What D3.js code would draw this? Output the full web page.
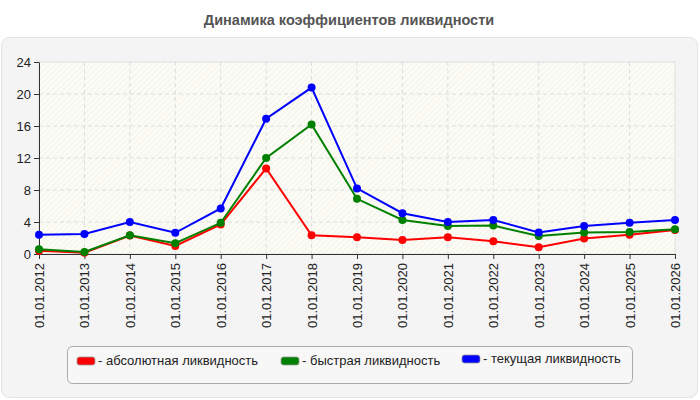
<!DOCTYPE html>
<html lang="ru">
<head>
<meta charset="UTF-8">
<title>Динамика коэффициентов ликвидности</title>
<style>
  body { margin: 0; background: #fff; font-family: "Liberation Sans", Arial, sans-serif; }
  .axis path, .axis line { stroke: #333; }
  .axis text { fill: #222; font-size: 13px; font-family: "Liberation Sans", Arial, sans-serif; }
  .grid line { stroke: #dcdcdc; stroke-dasharray: 4,3; }
</style>
</head>
<body>
<svg id="chart" width="700" height="400"></svg>
<script src="https://cdnjs.cloudflare.com/ajax/libs/d3/7.9.0/d3.min.js"></script>
<script>
  // data
  const dates = ["01.01.2012", "01.01.2013", "01.01.2014", "01.01.2015", "01.01.2016",
    "01.01.2017", "01.01.2018", "01.01.2019", "01.01.2020", "01.01.2021",
    "01.01.2022", "01.01.2023", "01.01.2024", "01.01.2025", "01.01.2026"];
  const absolute = [0.4, 0.15, 2.3, 1.0, 3.7, 10.7, 2.35, 2.1, 1.75, 2.1, 1.6, 0.85, 1.95, 2.4, 3.0];
  const quick = [0.6, 0.25, 2.35, 1.35, 3.9, 12.0, 16.2, 6.9, 4.25, 3.5, 3.55, 2.25, 2.7, 2.75, 3.1];
  const current = [2.4, 2.5, 4.0, 2.65, 5.7, 16.9, 20.8, 8.2, 5.1, 4.0, 4.25, 2.7, 3.5, 3.9, 4.25];
  const yTicks = [0, 4, 8, 12, 16, 20, 24];
  const seriesNames = ["абсолютная ликвидность", "быстрая ликвидность", "текущая ликвидность"];
  const seriesColors = ["#ff0000", "#008000", "#0000ff"];

  const series = [absolute, quick, current].map((values, i) => ({
    name: seriesNames[i], color: seriesColors[i], values: values
  }));

  const svg = d3.select("#chart");
  const plotLeft = 39, plotRight = 675, plotTop = 62, plotBottom = 254;

  const x = d3.scalePoint().domain(dates).range([plotLeft, plotRight]);
  const y = d3.scaleLinear().domain([0, 24]).range([plotBottom, plotTop]);

  // title
  svg.append("text")
    .attr("x", 349).attr("y", 25)
    .attr("text-anchor", "middle")
    .attr("font-size", 14.5).attr("font-weight", "bold")
    .attr("fill", "#555")
    .text("Динамика коэффициентов ликвидности");

  // outer panel
  svg.append("rect")
    .attr("x", 1.5).attr("y", 37.5).attr("width", 696).attr("height", 360)
    .attr("rx", 8)
    .attr("fill", "#f4f4f4").attr("stroke", "#e2e2e2");

  // hatched plot background
  const defs = svg.append("defs");
  const pat = defs.append("pattern")
    .attr("id", "hatch").attr("patternUnits", "userSpaceOnUse")
    .attr("width", 4).attr("height", 4)
    .attr("patternTransform", "rotate(45)");
  pat.append("rect").attr("width", 4).attr("height", 4).attr("fill", "#fcfcf5");
  pat.append("line").attr("x1", 0).attr("y1", 0).attr("x2", 0).attr("y2", 4)
    .attr("stroke", "#ebebe8").attr("stroke-width", 1);

  svg.append("rect")
    .attr("x", plotLeft).attr("y", plotTop)
    .attr("width", plotRight - plotLeft).attr("height", plotBottom - plotTop)
    .attr("fill", "url(#hatch)")
    .attr("stroke", "#dedede");

  // grid
  const grid = svg.append("g").attr("class", "grid");
  grid.selectAll(".h").data(yTicks.filter(t => t > 0 && t < 24)).enter()
    .append("line")
    .attr("x1", plotLeft).attr("x2", plotRight)
    .attr("y1", d => y(d)).attr("y2", d => y(d));
  grid.selectAll(".v").data(dates.slice(1, -1)).enter()
    .append("line")
    .attr("x1", d => x(d)).attr("x2", d => x(d))
    .attr("y1", plotTop).attr("y2", plotBottom);

  // axes
  svg.append("g")
    .attr("class", "axis")
    .attr("transform", "translate(" + plotLeft + ",0)")
    .call(d3.axisLeft(y).tickValues(yTicks).tickSize(5).tickPadding(3).tickSizeOuter(0));

  const xAxis = svg.append("g")
    .attr("class", "axis")
    .attr("transform", "translate(0," + plotBottom + ")")
    .call(d3.axisBottom(x).tickSize(5).tickSizeOuter(0));
  xAxis.selectAll("text")
    .attr("transform", "rotate(-90)")
    .attr("x", -9).attr("y", 0).attr("dy", "0.35em")
    .attr("text-anchor", "end");

  // lines and markers
  const line = d3.line().x((d, i) => x(dates[i])).y(d => y(d));
  const sg = svg.selectAll(".series").data(series).enter().append("g");
  sg.append("path")
    .attr("d", d => line(d.values))
    .attr("fill", "none")
    .attr("stroke", d => d.color)
    .attr("stroke-width", 2);
  sg.selectAll("circle")
    .data(d => d.values.map((v, i) => ({ v: v, i: i, color: d.color })))
    .enter().append("circle")
    .attr("cx", d => x(dates[d.i]))
    .attr("cy", d => y(d.v))
    .attr("r", 4)
    .attr("fill", d => d.color);

  // legend
  svg.append("rect")
    .attr("x", 67.5).attr("y", 346.5).attr("width", 565).attr("height", 37)
    .attr("rx", 5)
    .attr("fill", "#f7f7f7").attr("stroke", "#aaa");

  const legendX = [77, 281, 462];
  const legendDy = [0, 0, -2];
  const item = svg.selectAll(".legend-item").data(series).enter().append("g")
    .attr("transform", (d, i) => "translate(" + legendX[i] + "," + (357 + legendDy[i]) + ")");
  item.append("rect")
    .attr("width", 18).attr("height", 8).attr("rx", 2.5)
    .attr("fill", d => d.color)
    .attr("stroke", "#999").attr("stroke-width", 0.8);
  item.append("text")
    .attr("x", 21).attr("y", 8)
    .attr("font-size", 13).attr("fill", "#222")
    .text(d => "- " + d.name);
</script>
</body>
</html>
